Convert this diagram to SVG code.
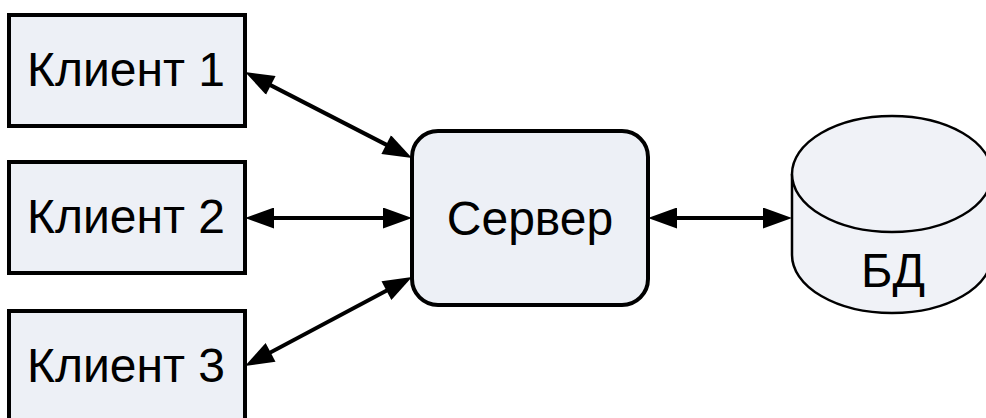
<svg xmlns="http://www.w3.org/2000/svg" width="986" height="418" viewBox="0 0 986 418">
<style>
.box{fill:#EDF0F6;stroke:#000;stroke-width:4}
.srv{fill:#EDF0F6;stroke:#000;stroke-width:4}
.db{fill:#F0F2F7;stroke:#000;stroke-width:2.5}
.lbl{font-family:"Liberation Sans",Arial,sans-serif;font-size:48px;fill:#000;text-anchor:middle}
.conn{stroke:#000;stroke-width:4;fill:none;marker-start:url(#arr);marker-end:url(#arr)}
</style>
<defs>
<marker id="arr" markerUnits="userSpaceOnUse" markerWidth="30" markerHeight="21" viewBox="0 0 29 21" refX="19" refY="10.5" orient="auto-start-reverse">
<path d="M0,0 L29,10.5 L0,21 z" fill="#000"/>
</marker>
</defs>
<g id="connectors">
<line class="conn" x1="253.9" y1="76.6" x2="403.1" y2="153.4"/>
<line class="conn" x1="255" y1="218" x2="402" y2="218"/>
<line class="conn" x1="253.8" y1="361.3" x2="403.2" y2="281.7"/>
<line class="conn" x1="658" y1="218" x2="782" y2="218"/>
</g>
<g id="client1">
<rect class="box" x="9" y="15" width="236" height="111"/>
<text class="lbl" x="126" y="86">Клиент 1</text>
</g>
<g id="client2">
<rect class="box" x="9" y="162" width="236" height="111"/>
<text class="lbl" x="126" y="233">Клиент 2</text>
</g>
<g id="client3">
<rect class="box" x="9" y="311" width="236" height="111"/>
<text class="lbl" x="126" y="382">Клиент 3</text>
</g>
<g id="server">
<rect class="srv" x="412" y="131" width="236" height="174" rx="26" ry="26"/>
<text class="lbl" x="530" y="235">Сервер</text>
</g>
<g id="db">
<path class="db" d="M792,174 L792,255 A100,58 0 0 0 992,255 L992,174 A100,58 0 0 0 792,174 Z"/>
<path class="db" d="M792,174 A100,58 0 0 0 992,174" fill="none"/>
<text class="lbl" x="893" y="287">БД</text>
</g>
</svg>
